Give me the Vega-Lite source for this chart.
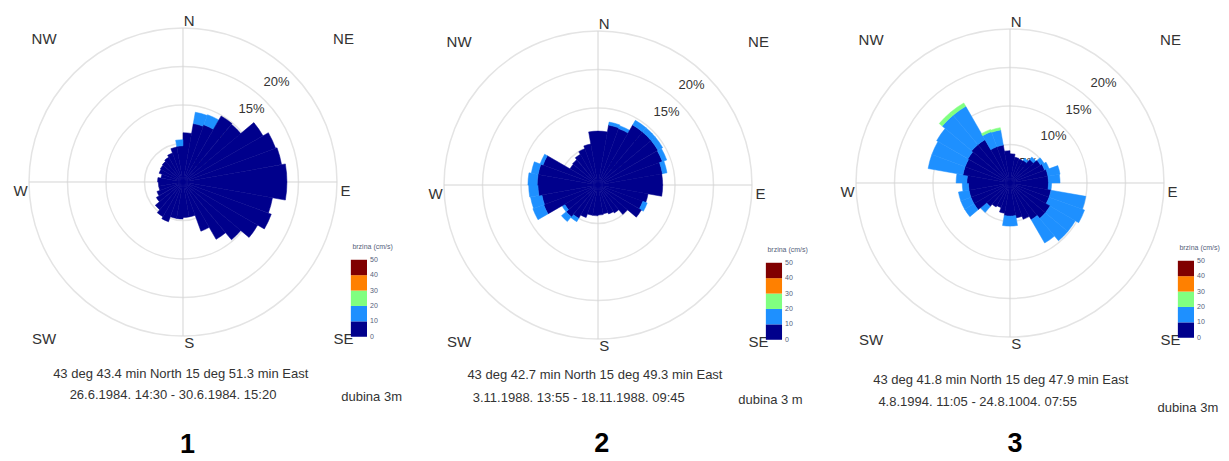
{
"$schema":"https://vega.github.io/schema/vega-lite/v6.json",
"padding":0,"spacing":0,"background":"white",
"config":{"view":{"stroke":null},"font":"Liberation Sans"},
"datasets":{
"rings":[{"pct":5},{"pct":10},{"pct":15},{"pct":20}],
"compass":[{"t":"N","a":0},{"t":"NE","a":45},{"t":"E","a":90},{"t":"SE","a":135},{"t":"S","a":180},{"t":"SW","a":225},{"t":"W","a":270},{"t":"NW","a":315}],
"cbar":[{"c":0,"lo":0},{"c":1,"lo":10},{"c":2,"lo":20},{"c":3,"lo":30},{"c":4,"lo":40}],
"cticks":[{"s":0},{"s":10},{"s":20},{"s":30},{"s":40},{"s":50}],
"info":[{"p":1,"l1":"43 deg 43.4 min North 15 deg 51.3 min East","l2":"26.6.1984. 14:30 - 30.6.1984. 15:20","dub":"dubina 3m","num":"1"},
{"p":2,"l1":"43 deg 42.7 min North 15 deg 49.3 min East","l2":"3.11.1988. 13:55 - 18.11.1988. 09:45","dub":"dubina 3 m","num":"2"},
{"p":3,"l1":"43 deg 41.8 min North 15 deg 47.9 min East","l2":"4.8.1994. 11:05 - 24.8.1004. 07:55","dub":"dubina 3m","num":"3"}],
"rose":[
{"p":1,"d":0,"c":0,"v":6.4},
{"p":1,"d":10,"c":0,"v":7.7},{"p":1,"d":10,"c":1,"v":1.5},
{"p":1,"d":20,"c":0,"v":7.9},{"p":1,"d":20,"c":1,"v":1.4},
{"p":1,"d":30,"c":0,"v":9.9},
{"p":1,"d":40,"c":0,"v":9.8},
{"p":1,"d":50,"c":0,"v":12.0},
{"p":1,"d":60,"c":0,"v":12.8},
{"p":1,"d":70,"c":0,"v":13.0},
{"p":1,"d":80,"c":0,"v":13.5},
{"p":1,"d":90,"c":0,"v":13.5},
{"p":1,"d":100,"c":0,"v":11.8},
{"p":1,"d":110,"c":0,"v":12.2},
{"p":1,"d":120,"c":0,"v":11.2},
{"p":1,"d":130,"c":0,"v":9.8},
{"p":1,"d":140,"c":0,"v":8.6},
{"p":1,"d":150,"c":0,"v":6.8},
{"p":1,"d":160,"c":0,"v":4.6},
{"p":1,"d":170,"c":0,"v":4.6},
{"p":1,"d":180,"c":0,"v":4.8},
{"p":1,"d":190,"c":0,"v":4.8},
{"p":1,"d":200,"c":0,"v":5.5},
{"p":1,"d":210,"c":0,"v":5.2},
{"p":1,"d":220,"c":0,"v":4.7},
{"p":1,"d":230,"c":0,"v":4.0},
{"p":1,"d":240,"c":0,"v":3.6},
{"p":1,"d":250,"c":0,"v":3.2},
{"p":1,"d":260,"c":0,"v":3.2},
{"p":1,"d":270,"c":0,"v":3.3},
{"p":1,"d":280,"c":0,"v":2.9},
{"p":1,"d":290,"c":0,"v":3.3},
{"p":1,"d":300,"c":0,"v":3.4},
{"p":1,"d":310,"c":0,"v":3.5},
{"p":1,"d":320,"c":0,"v":3.7},
{"p":1,"d":330,"c":0,"v":4.0},
{"p":1,"d":340,"c":0,"v":4.6},
{"p":1,"d":350,"c":0,"v":4.7},{"p":1,"d":350,"c":1,"v":0.8},
{"p":2,"d":0,"c":0,"v":7.0},
{"p":2,"d":10,"c":0,"v":7.9},{"p":2,"d":10,"c":1,"v":0.4},
{"p":2,"d":20,"c":0,"v":7.8},{"p":2,"d":20,"c":1,"v":0.4},
{"p":2,"d":30,"c":0,"v":9.0},{"p":2,"d":30,"c":1,"v":0.7},
{"p":2,"d":40,"c":0,"v":9.0},{"p":2,"d":40,"c":1,"v":0.7},
{"p":2,"d":50,"c":0,"v":9.0},{"p":2,"d":50,"c":1,"v":0.7},
{"p":2,"d":60,"c":0,"v":8.9},{"p":2,"d":60,"c":1,"v":0.6},
{"p":2,"d":70,"c":0,"v":8.5},{"p":2,"d":70,"c":1,"v":0.6},
{"p":2,"d":80,"c":0,"v":8.4},
{"p":2,"d":90,"c":0,"v":8.4},
{"p":2,"d":100,"c":0,"v":6.6},
{"p":2,"d":110,"c":0,"v":6.2},{"p":2,"d":110,"c":1,"v":0.6},
{"p":2,"d":120,"c":0,"v":6.5},
{"p":2,"d":130,"c":0,"v":5.0},
{"p":2,"d":140,"c":0,"v":4.2},
{"p":2,"d":150,"c":0,"v":4.0},
{"p":2,"d":160,"c":0,"v":3.8},
{"p":2,"d":170,"c":0,"v":3.9},
{"p":2,"d":180,"c":0,"v":4.0},
{"p":2,"d":190,"c":0,"v":4.0},
{"p":2,"d":200,"c":0,"v":4.5},
{"p":2,"d":210,"c":0,"v":5.0},{"p":2,"d":210,"c":1,"v":0.5},
{"p":2,"d":220,"c":0,"v":5.4},{"p":2,"d":220,"c":1,"v":0.8},
{"p":2,"d":230,"c":0,"v":5.0},{"p":2,"d":230,"c":1,"v":0.4},
{"p":2,"d":240,"c":0,"v":7.5},{"p":2,"d":240,"c":1,"v":1.5},
{"p":2,"d":250,"c":0,"v":7.4},{"p":2,"d":250,"c":1,"v":1.5},
{"p":2,"d":260,"c":0,"v":7.8},{"p":2,"d":260,"c":1,"v":1.2},
{"p":2,"d":270,"c":0,"v":7.9},{"p":2,"d":270,"c":1,"v":1.2},
{"p":2,"d":280,"c":0,"v":7.9},{"p":2,"d":280,"c":1,"v":0.9},
{"p":2,"d":290,"c":0,"v":7.6},{"p":2,"d":290,"c":1,"v":0.4},
{"p":2,"d":300,"c":0,"v":4.2},
{"p":2,"d":310,"c":0,"v":4.3},
{"p":2,"d":320,"c":0,"v":4.6},
{"p":2,"d":330,"c":0,"v":5.0},
{"p":2,"d":340,"c":0,"v":5.4},
{"p":2,"d":350,"c":0,"v":7.0},
{"p":3,"d":0,"c":0,"v":3.8},
{"p":3,"d":10,"c":0,"v":3.4},
{"p":3,"d":20,"c":0,"v":3.3},
{"p":3,"d":30,"c":0,"v":3.4},{"p":3,"d":30,"c":1,"v":0.3},
{"p":3,"d":40,"c":0,"v":4.0},{"p":3,"d":40,"c":1,"v":0.4},
{"p":3,"d":50,"c":0,"v":4.6},{"p":3,"d":50,"c":1,"v":0.5},
{"p":3,"d":60,"c":0,"v":4.8},{"p":3,"d":60,"c":1,"v":0.6},
{"p":3,"d":70,"c":0,"v":5.0},{"p":3,"d":70,"c":1,"v":1.6},
{"p":3,"d":80,"c":0,"v":5.0},{"p":3,"d":80,"c":1,"v":1.5},
{"p":3,"d":90,"c":0,"v":5.0},{"p":3,"d":90,"c":1,"v":0.4},
{"p":3,"d":100,"c":0,"v":5.4},{"p":3,"d":100,"c":1,"v":4.6},
{"p":3,"d":110,"c":0,"v":5.4},{"p":3,"d":110,"c":1,"v":4.9},
{"p":3,"d":120,"c":0,"v":6.0},{"p":3,"d":120,"c":1,"v":3.8},
{"p":3,"d":130,"c":0,"v":6.0},{"p":3,"d":130,"c":1,"v":3.8},
{"p":3,"d":140,"c":0,"v":5.5},{"p":3,"d":140,"c":1,"v":3.5},
{"p":3,"d":150,"c":0,"v":5.0},
{"p":3,"d":160,"c":0,"v":4.6},
{"p":3,"d":170,"c":0,"v":4.3},{"p":3,"d":170,"c":1,"v":1.3},
{"p":3,"d":180,"c":0,"v":4.3},{"p":3,"d":180,"c":1,"v":1.3},
{"p":3,"d":190,"c":0,"v":4.0},
{"p":3,"d":200,"c":0,"v":3.4},
{"p":3,"d":210,"c":0,"v":3.6},
{"p":3,"d":220,"c":0,"v":4.0},{"p":3,"d":220,"c":1,"v":1.0},
{"p":3,"d":230,"c":0,"v":5.4},{"p":3,"d":230,"c":1,"v":1.4},
{"p":3,"d":240,"c":0,"v":5.4},{"p":3,"d":240,"c":1,"v":1.4},
{"p":3,"d":250,"c":0,"v":5.4},{"p":3,"d":250,"c":1,"v":1.4},
{"p":3,"d":260,"c":0,"v":5.4},{"p":3,"d":260,"c":1,"v":0.8},
{"p":3,"d":270,"c":0,"v":5.6},{"p":3,"d":270,"c":1,"v":1.4},
{"p":3,"d":280,"c":0,"v":6.2},{"p":3,"d":280,"c":1,"v":4.6},
{"p":3,"d":290,"c":0,"v":6.2},{"p":3,"d":290,"c":1,"v":4.6},
{"p":3,"d":300,"c":0,"v":6.3},{"p":3,"d":300,"c":1,"v":4.7},
{"p":3,"d":310,"c":0,"v":6.5},{"p":3,"d":310,"c":1,"v":5.0},{"p":3,"d":310,"c":2,"v":0.5},
{"p":3,"d":320,"c":0,"v":6.5},{"p":3,"d":320,"c":1,"v":5.0},{"p":3,"d":320,"c":2,"v":0.5},
{"p":3,"d":330,"c":0,"v":5.0},{"p":3,"d":330,"c":1,"v":2.1},{"p":3,"d":330,"c":2,"v":0.3},
{"p":3,"d":340,"c":0,"v":5.0},{"p":3,"d":340,"c":1,"v":2.0},{"p":3,"d":340,"c":2,"v":0.3},
{"p":3,"d":350,"c":0,"v":4.2}
]},
"hconcat":[
{"width":410,"height":461,"layer":[
{"data":{"name":"rings"},"mark":{"type":"arc","theta":0,"theta2":6.2832,"filled":false,"fill":null,"stroke":"#e4e4e4","strokeWidth":1.5},
 "encoding":{"x":{"datum":0,"type":"quantitative","scale":{"domain":[-23.766,29.481],"nice":false,"zero":false},"axis":null},"y":{"datum":0,"type":"quantitative","scale":{"domain":[-36.234,23.636],"nice":false,"zero":false},"axis":null},"radius":{"field":"pct","type":"quantitative","scale":{"type":"linear","domain":[0,20],"range":[0,154],"nice":false},"stack":null}}},
{"data":{"values":[{}]},"mark":{"type":"rule","stroke":"#d4d4d4","strokeWidth":1},
 "encoding":{"x":{"datum":0,"type":"quantitative","scale":{"domain":[-23.766,29.481],"nice":false,"zero":false},"axis":null},"y":{"datum":-20,"type":"quantitative","scale":{"domain":[-36.234,23.636],"nice":false,"zero":false},"axis":null},"y2":{"datum":20}}},
{"data":{"values":[{}]},"mark":{"type":"rule","stroke":"#d4d4d4","strokeWidth":1},
 "encoding":{"x":{"datum":-20,"type":"quantitative","scale":{"domain":[-23.766,29.481],"nice":false,"zero":false},"axis":null},"x2":{"datum":20},"y":{"datum":0,"type":"quantitative","scale":{"domain":[-36.234,23.636],"nice":false,"zero":false},"axis":null}}},
{"data":{"name":"rings"},"transform":[{"calculate":"datum.pct*0.95-1.2","as":"r"},{"calculate":"datum.r*sin(43*PI/180)","as":"lx"},{"calculate":"datum.r*cos(43*PI/180)","as":"ly"},{"calculate":"datum.pct+'%'","as":"lab"}],
 "mark":{"type":"text","fontSize":13,"fill":"#333333"},
 "encoding":{"x":{"field":"lx","type":"quantitative","scale":{"domain":[-23.766,29.481],"nice":false,"zero":false},"axis":null},"y":{"field":"ly","type":"quantitative","scale":{"domain":[-36.234,23.636],"nice":false,"zero":false},"axis":null},"text":{"field":"lab"}}},
{"data":{"name":"rose"},"transform":[{"filter":"datum.p==1"},{"stack":"v","groupby":["d"],"sort":[{"field":"c","order":"ascending"}],"as":["r0","r1"]},{"calculate":"datum.d+10","as":"d2"}],
 "mark":{"type":"arc","strokeWidth":0.5},
 "encoding":{"x":{"datum":0,"type":"quantitative","scale":{"domain":[-23.766,29.481],"nice":false,"zero":false},"axis":null},"y":{"datum":0,"type":"quantitative","scale":{"domain":[-36.234,23.636],"nice":false,"zero":false},"axis":null},
 "theta":{"field":"d","type":"quantitative","scale":{"domain":[0,360],"range":[0,6.283185307]},"stack":null},"theta2":{"field":"d2"},
 "radius":{"field":"r1","type":"quantitative","scale":{"type":"linear","domain":[0,20],"range":[0,154],"nice":false},"stack":null},"radius2":{"field":"r0"},
 "color":{"field":"c","type":"nominal","scale":{"domain":[0,1,2,3,4],"range":["#00008c","#1e90ff","#80ff80","#ff8000","#800000"]},"legend":null},
 "stroke":{"field":"c","type":"nominal","scale":{"domain":[0,1,2,3,4],"range":["#00008c","#1e90ff","#80ff80","#ff8000","#800000"]},"legend":null}}},
{"data":{"name":"compass"},"transform":[{"calculate":"sin(datum.a*PI/180)","as":"sa"},{"calculate":"cos(datum.a*PI/180)","as":"ca"},{"calculate":"datum.a%90!=0 ? 27.5*datum.sa+1.4 : 21.1*datum.sa+0.8*abs(datum.ca)","as":"lx"},{"calculate":"datum.a%90!=0 ? 27.5*datum.ca-0.9 : 20.9*datum.ca-1.2*abs(datum.sa)","as":"ly"}],
 "mark":{"type":"text","fontSize":15,"fill":"#333333","align":"center","baseline":"middle"},
 "encoding":{"x":{"field":"lx","type":"quantitative","scale":{"domain":[-23.766,29.481],"nice":false,"zero":false},"axis":null},"y":{"field":"ly","type":"quantitative","scale":{"domain":[-36.234,23.636],"nice":false,"zero":false},"axis":null},"text":{"field":"t"}}},
{"data":{"name":"cbar"},"transform":[{"calculate":"-20.1+datum.lo*0.2","as":"y0"},{"calculate":"datum.y0+2","as":"y1"}],
 "mark":{"type":"rect"},
 "encoding":{"x":{"datum":21.8,"type":"quantitative","scale":{"domain":[-23.766,29.481],"nice":false,"zero":false},"axis":null},"x2":{"datum":23.9},"y":{"field":"y0","type":"quantitative","scale":{"domain":[-36.234,23.636],"nice":false,"zero":false},"axis":null},"y2":{"field":"y1"},
 "color":{"field":"c","type":"nominal","scale":{"domain":[0,1,2,3,4],"range":["#00008c","#1e90ff","#80ff80","#ff8000","#800000"]},"legend":null}}},
{"data":{"name":"cticks"},"transform":[{"calculate":"-20.1+datum.s*0.2","as":"ty"}],
 "mark":{"type":"text","fontSize":7,"fill":"#55607a","align":"left","baseline":"middle"},
 "encoding":{"x":{"datum":24.3,"type":"quantitative","scale":{"domain":[-23.766,29.481],"nice":false,"zero":false},"axis":null},"y":{"field":"ty","type":"quantitative","scale":{"domain":[-36.234,23.636],"nice":false,"zero":false},"axis":null},"text":{"field":"s"}}},
{"data":{"values":[{"t":"brzina (cm/s)"}]},
 "mark":{"type":"text","fontSize":7,"fill":"#55607a","align":"left","baseline":"middle"},
 "encoding":{"x":{"datum":22.0,"type":"quantitative","scale":{"domain":[-23.766,29.481],"nice":false,"zero":false},"axis":null},"y":{"datum":-8.4,"type":"quantitative","scale":{"domain":[-36.234,23.636],"nice":false,"zero":false},"axis":null},"text":{"field":"t"}}},
{"data":{"name":"info"},"transform":[{"filter":"datum.p==1"}],
 "mark":{"type":"text","fontSize":13,"fill":"#333333","baseline":"middle"},
 "encoding":{"x":{"datum":-0.3,"type":"quantitative","scale":{"domain":[-23.766,29.481],"nice":false,"zero":false},"axis":null},"y":{"datum":-24.9,"type":"quantitative","scale":{"domain":[-36.234,23.636],"nice":false,"zero":false},"axis":null},"text":{"field":"l1"}}},
{"data":{"name":"info"},"transform":[{"filter":"datum.p==1"}],
 "mark":{"type":"text","fontSize":13,"fill":"#333333","baseline":"middle"},
 "encoding":{"x":{"datum":-1.3,"type":"quantitative","scale":{"domain":[-23.766,29.481],"nice":false,"zero":false},"axis":null},"y":{"datum":-27.6,"type":"quantitative","scale":{"domain":[-36.234,23.636],"nice":false,"zero":false},"axis":null},"text":{"field":"l2"}}},
{"data":{"name":"info"},"transform":[{"filter":"datum.p==1"}],
 "mark":{"type":"text","fontSize":13,"fill":"#333333","baseline":"middle"},
 "encoding":{"x":{"datum":24.5,"type":"quantitative","scale":{"domain":[-23.766,29.481],"nice":false,"zero":false},"axis":null},"y":{"datum":-27.9,"type":"quantitative","scale":{"domain":[-36.234,23.636],"nice":false,"zero":false},"axis":null},"text":{"field":"dub"}}},
{"data":{"name":"info"},"transform":[{"filter":"datum.p==1"}],
 "mark":{"type":"text","fontSize":27,"fontWeight":"bold","font":"Liberation Sans","fill":"#000000","baseline":"middle"},
 "encoding":{"x":{"datum":0.6,"type":"quantitative","scale":{"domain":[-23.766,29.481],"nice":false,"zero":false},"axis":null},"y":{"datum":-34.1,"type":"quantitative","scale":{"domain":[-36.234,23.636],"nice":false,"zero":false},"axis":null},"text":{"field":"num"}}}
]},
{"width":410,"height":461,"layer":[
{"data":{"name":"rings"},"mark":{"type":"arc","theta":0,"theta2":6.2832,"filled":false,"fill":null,"stroke":"#e4e4e4","strokeWidth":1.5},
 "encoding":{"x":{"datum":0,"type":"quantitative","scale":{"domain":[-24.416,28.831],"nice":false,"zero":false},"axis":null},"y":{"datum":0,"type":"quantitative","scale":{"domain":[-35.844,24.026],"nice":false,"zero":false},"axis":null},"radius":{"field":"pct","type":"quantitative","scale":{"type":"linear","domain":[0,20],"range":[0,154],"nice":false},"stack":null}}},
{"data":{"values":[{}]},"mark":{"type":"rule","stroke":"#d4d4d4","strokeWidth":1},
 "encoding":{"x":{"datum":0,"type":"quantitative","scale":{"domain":[-24.416,28.831],"nice":false,"zero":false},"axis":null},"y":{"datum":-20,"type":"quantitative","scale":{"domain":[-35.844,24.026],"nice":false,"zero":false},"axis":null},"y2":{"datum":20}}},
{"data":{"values":[{}]},"mark":{"type":"rule","stroke":"#d4d4d4","strokeWidth":1},
 "encoding":{"x":{"datum":-20,"type":"quantitative","scale":{"domain":[-24.416,28.831],"nice":false,"zero":false},"axis":null},"x2":{"datum":20},"y":{"datum":0,"type":"quantitative","scale":{"domain":[-35.844,24.026],"nice":false,"zero":false},"axis":null}}},
{"data":{"name":"rings"},"transform":[{"calculate":"datum.pct*0.95-1.2","as":"r"},{"calculate":"datum.r*sin(43*PI/180)","as":"lx"},{"calculate":"datum.r*cos(43*PI/180)","as":"ly"},{"calculate":"datum.pct+'%'","as":"lab"}],
 "mark":{"type":"text","fontSize":13,"fill":"#333333"},
 "encoding":{"x":{"field":"lx","type":"quantitative","scale":{"domain":[-24.416,28.831],"nice":false,"zero":false},"axis":null},"y":{"field":"ly","type":"quantitative","scale":{"domain":[-35.844,24.026],"nice":false,"zero":false},"axis":null},"text":{"field":"lab"}}},
{"data":{"name":"rose"},"transform":[{"filter":"datum.p==2"},{"stack":"v","groupby":["d"],"sort":[{"field":"c","order":"ascending"}],"as":["r0","r1"]},{"calculate":"datum.d+10","as":"d2"}],
 "mark":{"type":"arc","strokeWidth":0.5},
 "encoding":{"x":{"datum":0,"type":"quantitative","scale":{"domain":[-24.416,28.831],"nice":false,"zero":false},"axis":null},"y":{"datum":0,"type":"quantitative","scale":{"domain":[-35.844,24.026],"nice":false,"zero":false},"axis":null},
 "theta":{"field":"d","type":"quantitative","scale":{"domain":[0,360],"range":[0,6.283185307]},"stack":null},"theta2":{"field":"d2"},
 "radius":{"field":"r1","type":"quantitative","scale":{"type":"linear","domain":[0,20],"range":[0,154],"nice":false},"stack":null},"radius2":{"field":"r0"},
 "color":{"field":"c","type":"nominal","scale":{"domain":[0,1,2,3,4],"range":["#00008c","#1e90ff","#80ff80","#ff8000","#800000"]},"legend":null},
 "stroke":{"field":"c","type":"nominal","scale":{"domain":[0,1,2,3,4],"range":["#00008c","#1e90ff","#80ff80","#ff8000","#800000"]},"legend":null}}},
{"data":{"name":"compass"},"transform":[{"calculate":"sin(datum.a*PI/180)","as":"sa"},{"calculate":"cos(datum.a*PI/180)","as":"ca"},{"calculate":"datum.a%90!=0 ? 27.5*datum.sa+1.4 : 21.1*datum.sa+0.8*abs(datum.ca)","as":"lx"},{"calculate":"datum.a%90!=0 ? 27.5*datum.ca-0.9 : 20.9*datum.ca-1.2*abs(datum.sa)","as":"ly"}],
 "mark":{"type":"text","fontSize":15,"fill":"#333333","align":"center","baseline":"middle"},
 "encoding":{"x":{"field":"lx","type":"quantitative","scale":{"domain":[-24.416,28.831],"nice":false,"zero":false},"axis":null},"y":{"field":"ly","type":"quantitative","scale":{"domain":[-35.844,24.026],"nice":false,"zero":false},"axis":null},"text":{"field":"t"}}},
{"data":{"name":"cbar"},"transform":[{"calculate":"-20.1+datum.lo*0.2","as":"y0"},{"calculate":"datum.y0+2","as":"y1"}],
 "mark":{"type":"rect"},
 "encoding":{"x":{"datum":21.8,"type":"quantitative","scale":{"domain":[-24.416,28.831],"nice":false,"zero":false},"axis":null},"x2":{"datum":23.9},"y":{"field":"y0","type":"quantitative","scale":{"domain":[-35.844,24.026],"nice":false,"zero":false},"axis":null},"y2":{"field":"y1"},
 "color":{"field":"c","type":"nominal","scale":{"domain":[0,1,2,3,4],"range":["#00008c","#1e90ff","#80ff80","#ff8000","#800000"]},"legend":null}}},
{"data":{"name":"cticks"},"transform":[{"calculate":"-20.1+datum.s*0.2","as":"ty"}],
 "mark":{"type":"text","fontSize":7,"fill":"#55607a","align":"left","baseline":"middle"},
 "encoding":{"x":{"datum":24.3,"type":"quantitative","scale":{"domain":[-24.416,28.831],"nice":false,"zero":false},"axis":null},"y":{"field":"ty","type":"quantitative","scale":{"domain":[-35.844,24.026],"nice":false,"zero":false},"axis":null},"text":{"field":"s"}}},
{"data":{"values":[{"t":"brzina (cm/s)"}]},
 "mark":{"type":"text","fontSize":7,"fill":"#55607a","align":"left","baseline":"middle"},
 "encoding":{"x":{"datum":22.0,"type":"quantitative","scale":{"domain":[-24.416,28.831],"nice":false,"zero":false},"axis":null},"y":{"datum":-8.4,"type":"quantitative","scale":{"domain":[-35.844,24.026],"nice":false,"zero":false},"axis":null},"text":{"field":"t"}}},
{"data":{"name":"info"},"transform":[{"filter":"datum.p==2"}],
 "mark":{"type":"text","fontSize":13,"fill":"#333333","baseline":"middle"},
 "encoding":{"x":{"datum":-0.4,"type":"quantitative","scale":{"domain":[-24.416,28.831],"nice":false,"zero":false},"axis":null},"y":{"datum":-24.7,"type":"quantitative","scale":{"domain":[-35.844,24.026],"nice":false,"zero":false},"axis":null},"text":{"field":"l1"}}},
{"data":{"name":"info"},"transform":[{"filter":"datum.p==2"}],
 "mark":{"type":"text","fontSize":13,"fill":"#333333","baseline":"middle"},
 "encoding":{"x":{"datum":-2.5,"type":"quantitative","scale":{"domain":[-24.416,28.831],"nice":false,"zero":false},"axis":null},"y":{"datum":-27.7,"type":"quantitative","scale":{"domain":[-35.844,24.026],"nice":false,"zero":false},"axis":null},"text":{"field":"l2"}}},
{"data":{"name":"info"},"transform":[{"filter":"datum.p==2"}],
 "mark":{"type":"text","fontSize":13,"fill":"#333333","baseline":"middle"},
 "encoding":{"x":{"datum":22.4,"type":"quantitative","scale":{"domain":[-24.416,28.831],"nice":false,"zero":false},"axis":null},"y":{"datum":-27.9,"type":"quantitative","scale":{"domain":[-35.844,24.026],"nice":false,"zero":false},"axis":null},"text":{"field":"dub"}}},
{"data":{"name":"info"},"transform":[{"filter":"datum.p==2"}],
 "mark":{"type":"text","fontSize":27,"fontWeight":"bold","font":"Liberation Sans","fill":"#000000","baseline":"middle"},
 "encoding":{"x":{"datum":0.5,"type":"quantitative","scale":{"domain":[-24.416,28.831],"nice":false,"zero":false},"axis":null},"y":{"datum":-33.6,"type":"quantitative","scale":{"domain":[-35.844,24.026],"nice":false,"zero":false},"axis":null},"text":{"field":"num"}}}
]},
{"width":409,"height":461,"layer":[
{"data":{"name":"rings"},"mark":{"type":"arc","theta":0,"theta2":6.2832,"filled":false,"fill":null,"stroke":"#e4e4e4","strokeWidth":1.5},
 "encoding":{"x":{"datum":0,"type":"quantitative","scale":{"domain":[-24.675,28.442],"nice":false,"zero":false},"axis":null},"y":{"datum":0,"type":"quantitative","scale":{"domain":[-36.104,23.766],"nice":false,"zero":false},"axis":null},"radius":{"field":"pct","type":"quantitative","scale":{"type":"linear","domain":[0,20],"range":[0,154],"nice":false},"stack":null}}},
{"data":{"values":[{}]},"mark":{"type":"rule","stroke":"#d4d4d4","strokeWidth":1},
 "encoding":{"x":{"datum":0,"type":"quantitative","scale":{"domain":[-24.675,28.442],"nice":false,"zero":false},"axis":null},"y":{"datum":-20,"type":"quantitative","scale":{"domain":[-36.104,23.766],"nice":false,"zero":false},"axis":null},"y2":{"datum":20}}},
{"data":{"values":[{}]},"mark":{"type":"rule","stroke":"#d4d4d4","strokeWidth":1},
 "encoding":{"x":{"datum":-20,"type":"quantitative","scale":{"domain":[-24.675,28.442],"nice":false,"zero":false},"axis":null},"x2":{"datum":20},"y":{"datum":0,"type":"quantitative","scale":{"domain":[-36.104,23.766],"nice":false,"zero":false},"axis":null}}},
{"data":{"name":"rings"},"transform":[{"calculate":"datum.pct*0.95-1.2","as":"r"},{"calculate":"datum.r*sin(43*PI/180)","as":"lx"},{"calculate":"datum.r*cos(43*PI/180)","as":"ly"},{"calculate":"datum.pct+'%'","as":"lab"}],
 "mark":{"type":"text","fontSize":13,"fill":"#333333"},
 "encoding":{"x":{"field":"lx","type":"quantitative","scale":{"domain":[-24.675,28.442],"nice":false,"zero":false},"axis":null},"y":{"field":"ly","type":"quantitative","scale":{"domain":[-36.104,23.766],"nice":false,"zero":false},"axis":null},"text":{"field":"lab"}}},
{"data":{"name":"rose"},"transform":[{"filter":"datum.p==3"},{"stack":"v","groupby":["d"],"sort":[{"field":"c","order":"ascending"}],"as":["r0","r1"]},{"calculate":"datum.d+10","as":"d2"}],
 "mark":{"type":"arc","strokeWidth":0.5},
 "encoding":{"x":{"datum":0,"type":"quantitative","scale":{"domain":[-24.675,28.442],"nice":false,"zero":false},"axis":null},"y":{"datum":0,"type":"quantitative","scale":{"domain":[-36.104,23.766],"nice":false,"zero":false},"axis":null},
 "theta":{"field":"d","type":"quantitative","scale":{"domain":[0,360],"range":[0,6.283185307]},"stack":null},"theta2":{"field":"d2"},
 "radius":{"field":"r1","type":"quantitative","scale":{"type":"linear","domain":[0,20],"range":[0,154],"nice":false},"stack":null},"radius2":{"field":"r0"},
 "color":{"field":"c","type":"nominal","scale":{"domain":[0,1,2,3,4],"range":["#00008c","#1e90ff","#80ff80","#ff8000","#800000"]},"legend":null},
 "stroke":{"field":"c","type":"nominal","scale":{"domain":[0,1,2,3,4],"range":["#00008c","#1e90ff","#80ff80","#ff8000","#800000"]},"legend":null}}},
{"data":{"name":"compass"},"transform":[{"calculate":"sin(datum.a*PI/180)","as":"sa"},{"calculate":"cos(datum.a*PI/180)","as":"ca"},{"calculate":"datum.a%90!=0 ? 27.5*datum.sa+1.4 : 21.1*datum.sa+0.8*abs(datum.ca)","as":"lx"},{"calculate":"datum.a%90!=0 ? 27.5*datum.ca-0.9 : 20.9*datum.ca-1.2*abs(datum.sa)","as":"ly"}],
 "mark":{"type":"text","fontSize":15,"fill":"#333333","align":"center","baseline":"middle"},
 "encoding":{"x":{"field":"lx","type":"quantitative","scale":{"domain":[-24.675,28.442],"nice":false,"zero":false},"axis":null},"y":{"field":"ly","type":"quantitative","scale":{"domain":[-36.104,23.766],"nice":false,"zero":false},"axis":null},"text":{"field":"t"}}},
{"data":{"name":"cbar"},"transform":[{"calculate":"-20.1+datum.lo*0.2","as":"y0"},{"calculate":"datum.y0+2","as":"y1"}],
 "mark":{"type":"rect"},
 "encoding":{"x":{"datum":21.8,"type":"quantitative","scale":{"domain":[-24.675,28.442],"nice":false,"zero":false},"axis":null},"x2":{"datum":23.9},"y":{"field":"y0","type":"quantitative","scale":{"domain":[-36.104,23.766],"nice":false,"zero":false},"axis":null},"y2":{"field":"y1"},
 "color":{"field":"c","type":"nominal","scale":{"domain":[0,1,2,3,4],"range":["#00008c","#1e90ff","#80ff80","#ff8000","#800000"]},"legend":null}}},
{"data":{"name":"cticks"},"transform":[{"calculate":"-20.1+datum.s*0.2","as":"ty"}],
 "mark":{"type":"text","fontSize":7,"fill":"#55607a","align":"left","baseline":"middle"},
 "encoding":{"x":{"datum":24.3,"type":"quantitative","scale":{"domain":[-24.675,28.442],"nice":false,"zero":false},"axis":null},"y":{"field":"ty","type":"quantitative","scale":{"domain":[-36.104,23.766],"nice":false,"zero":false},"axis":null},"text":{"field":"s"}}},
{"data":{"values":[{"t":"brzina (cm/s)"}]},
 "mark":{"type":"text","fontSize":7,"fill":"#55607a","align":"left","baseline":"middle"},
 "encoding":{"x":{"datum":22.0,"type":"quantitative","scale":{"domain":[-24.675,28.442],"nice":false,"zero":false},"axis":null},"y":{"datum":-8.4,"type":"quantitative","scale":{"domain":[-36.104,23.766],"nice":false,"zero":false},"axis":null},"text":{"field":"t"}}},
{"data":{"name":"info"},"transform":[{"filter":"datum.p==3"}],
 "mark":{"type":"text","fontSize":13,"fill":"#333333","baseline":"middle"},
 "encoding":{"x":{"datum":-1.2,"type":"quantitative","scale":{"domain":[-24.675,28.442],"nice":false,"zero":false},"axis":null},"y":{"datum":-25.6,"type":"quantitative","scale":{"domain":[-36.104,23.766],"nice":false,"zero":false},"axis":null},"text":{"field":"l1"}}},
{"data":{"name":"info"},"transform":[{"filter":"datum.p==3"}],
 "mark":{"type":"text","fontSize":13,"fill":"#333333","baseline":"middle"},
 "encoding":{"x":{"datum":-4.2,"type":"quantitative","scale":{"domain":[-24.675,28.442],"nice":false,"zero":false},"axis":null},"y":{"datum":-28.4,"type":"quantitative","scale":{"domain":[-36.104,23.766],"nice":false,"zero":false},"axis":null},"text":{"field":"l2"}}},
{"data":{"name":"info"},"transform":[{"filter":"datum.p==3"}],
 "mark":{"type":"text","fontSize":13,"fill":"#333333","baseline":"middle"},
 "encoding":{"x":{"datum":23.1,"type":"quantitative","scale":{"domain":[-24.675,28.442],"nice":false,"zero":false},"axis":null},"y":{"datum":-29.2,"type":"quantitative","scale":{"domain":[-36.104,23.766],"nice":false,"zero":false},"axis":null},"text":{"field":"dub"}}},
{"data":{"name":"info"},"transform":[{"filter":"datum.p==3"}],
 "mark":{"type":"text","fontSize":27,"fontWeight":"bold","font":"Liberation Sans","fill":"#000000","baseline":"middle"},
 "encoding":{"x":{"datum":0.65,"type":"quantitative","scale":{"domain":[-24.675,28.442],"nice":false,"zero":false},"axis":null},"y":{"datum":-33.9,"type":"quantitative","scale":{"domain":[-36.104,23.766],"nice":false,"zero":false},"axis":null},"text":{"field":"num"}}}
]}
]
}
